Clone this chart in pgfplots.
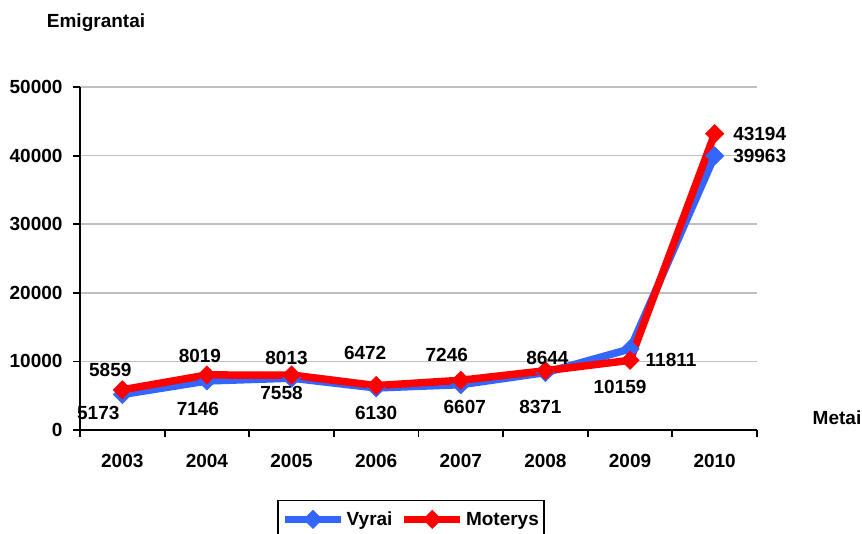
\documentclass[border=0pt]{standalone}
\usepackage{pgfplots}
\usepackage{pgfplotstable}
\pgfplotsset{compat=1.18}
\usepackage{fontspec}
\setmainfont{Liberation Sans}
\definecolor{vblue}{RGB}{51,102,255}
\definecolor{mred}{RGB}{255,0,0}
\newcommand{\lbl}{\bfseries\fontsize{19}{22}\selectfont}
\pgfplotstableread{
x y dx dy
0 5173 -24 -18
1 7146 -9 -28
2 7558 -10 -15
3 6130 0 -25
4 6607 4 -22
5 8371 -5 -34
6 11811 41 -11
7 39963 45 0
}\vyrai
\pgfplotstableread{
x y dx dy
0 5859 -12 20
1 8019 -7 19
2 8013 -5 17
3 6472 -11 33
4 7246 -14 25
5 8644 2 13
6 10159 -10 -27
7 43194 45 0
}\moterys
\begin{document}
\begin{tikzpicture}[x=1pt,y=1pt]
\begin{axis}[
 at={(80pt,103pt)}, anchor=south west,
 scale only axis, width=677pt, height=343pt,
 xmin=-0.5, xmax=7.5, ymin=0, ymax=50000,
 axis lines=left, axis line style={-, line width=1.8pt},
 xtick={0,...,7}, xticklabels={2003,2004,2005,2006,2007,2008,2009,2010},
 minor xtick={-0.5,0.5,...,7.5},
 ytick={0,10000,...,50000},
 scaled y ticks=false,
 /pgf/number format/assume math mode=true,
 /pgf/number format/set thousands separator={},
 tick align=outside,
 major tick length=7pt, minor tick length=7pt,
 tick style={black, line width=1.8pt},
 major x tick style={draw=none},
 ymajorgrids, major grid style={draw=black!25, line width=1.5pt},
 tick label style={font=\lbl},
 xticklabel style={yshift=-14pt},
 yticklabel style={xshift=-7pt},
 clip=false,
 legend style={at={(0.489,-0.204)}, anchor=north, legend columns=2, draw=black, line width=1.5pt, font=\lbl,
   inner ysep=9pt,
   /tikz/every even column/.append style={column sep=6pt}},
 legend image code/.code={\draw[#1,mark repeat=2,mark phase=2] plot coordinates {(0pt,0pt) (28pt,0pt) (56pt,0pt)};},
 every axis plot/.append style={line width=7.5pt},
 nodes near coords,
 point meta=explicit symbolic,
 visualization depends on=\thisrow{dx}\as\dx,
 visualization depends on=\thisrow{dy}\as\dy,
 nodes near coords style={anchor=center, xshift=\dx pt, yshift=\dy pt, font=\lbl, text=black},
]
\addplot[color=vblue, mark=square*, mark size=6.5pt, mark options={rotate=45, solid, line width=0.5pt}] table[x=x,y=y,meta=y]{\vyrai};
\addlegendentry{Vyrai}
\addplot[color=mred, mark=square*, mark size=6.5pt, mark options={rotate=45, solid, line width=0.5pt}] table[x=x,y=y,meta=y]{\moterys};
\addlegendentry{Moterys}
\end{axis}
\node[font=\lbl] at (96,510) {Emigrantai};
\node[font=\lbl] at (837,115) {Metai};
\pgfresetboundingbox
\useasboundingbox (0,0) rectangle (862,533);
\end{tikzpicture}
\end{document}
